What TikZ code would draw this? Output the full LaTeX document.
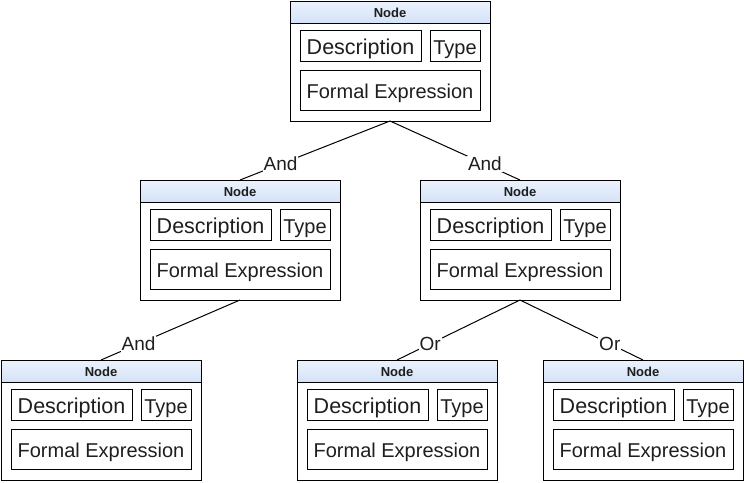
\documentclass[tikz,border=0pt]{standalone}
\usepackage{fontspec}
\setmainfont{Liberation Sans}
\definecolor{hdrtop}{RGB}{236,242,252}
\definecolor{hdrbot}{RGB}{212,226,248}
\definecolor{txt}{RGB}{30,30,30}
\tikzset{
  outerbox/.style={draw=black, line width=1pt, minimum width=200pt, minimum height=120pt, inner sep=0pt, outer sep=0pt, anchor=north west},
  headbox/.style={draw=black, line width=1pt, top color=hdrtop, bottom color=hdrbot, minimum width=200pt, minimum height=22pt, inner sep=0pt, outer sep=0pt, anchor=north west, font=\fontsize{13}{15}\selectfont\bfseries, text=txt, text height=10.5pt, text depth=0pt},
  innerbox/.style={draw=black, line width=1pt, inner sep=0pt, outer sep=0pt, anchor=north west, font=\fontsize{20}{24}\selectfont, text=txt, text height=17pt, text depth=0pt},
  descbox/.style={innerbox, font=\fontsize{21.5}{25}\selectfont, text height=17.5pt},
  link/.style={draw=black, line width=1pt},
  lbl/.style={fill=white, inner sep=1pt, pos=0.73, font=\fontsize{19}{22}\selectfont, text=txt}
}
\newcommand{\treenode}[3]{%
  \node[outerbox] (#1) at (#2,#3) {};
  \node[headbox] (#1-h) at (#2,#3) {Node};
  \node[descbox, minimum width=121pt, minimum height=31pt] (#1-d) at ([xshift=10pt,yshift=-29pt]#1.north west) {Description};
  \node[innerbox, minimum width=50pt, minimum height=31pt] (#1-t) at ([xshift=140pt,yshift=-29pt]#1.north west) {Type};
  \node[innerbox, minimum width=180pt, minimum height=40pt] (#1-f) at ([xshift=10pt,yshift=-69pt]#1.north west) {Formal Expression};
}
\begin{document}
\begin{tikzpicture}[x=1pt,y=-1pt]
\useasboundingbox (0,0) rectangle (744,482);
\treenode{top}{290}{1}
\treenode{ml}{140}{180}
\treenode{mr}{420}{180}
\treenode{bl}{1}{360}
\treenode{bm}{297}{360}
\treenode{br}{543}{360}
\draw[link] (top.south) -- node[lbl] {And} (ml.north);
\draw[link] (top.south) -- node[lbl] {And} (mr.north);
\draw[link] (ml.south) -- node[lbl] {And} (bl.north);
\draw[link] (mr.south) -- node[lbl] {Or} (bm.north);
\draw[link] (mr.south) -- node[lbl] {Or} (br.north);
\end{tikzpicture}
\end{document}
